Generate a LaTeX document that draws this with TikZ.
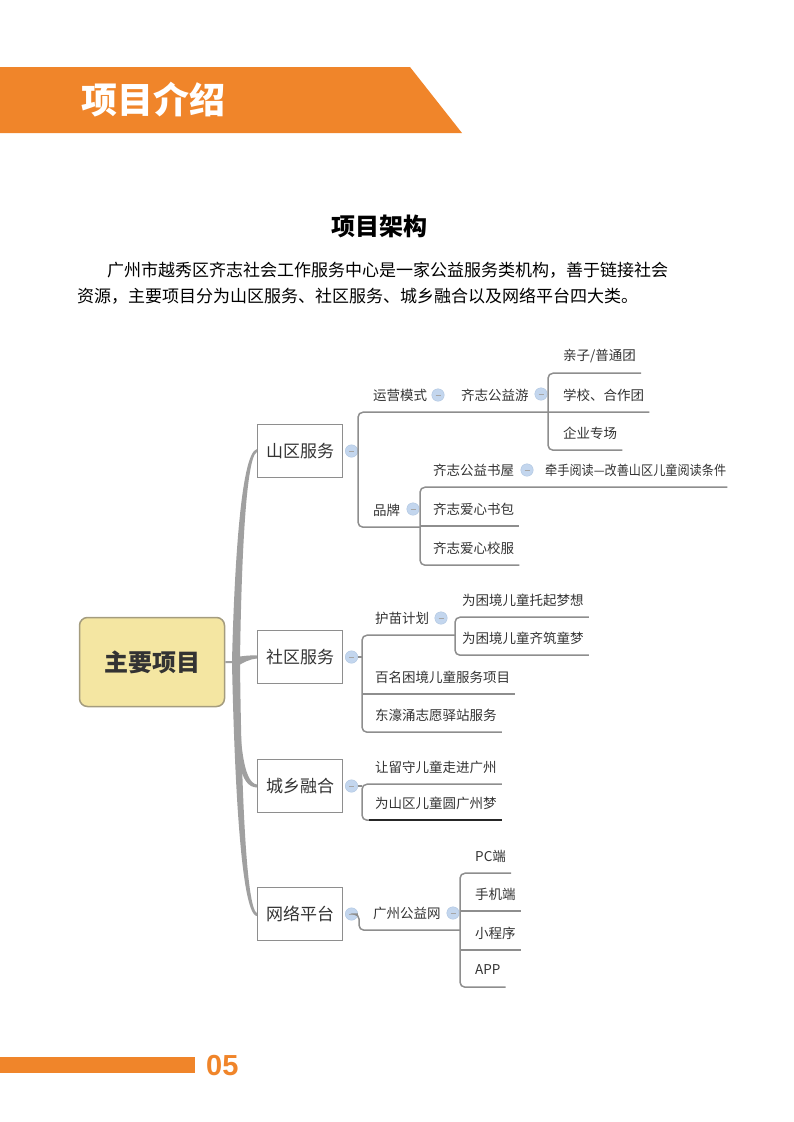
\documentclass[tikz,border=0pt]{standalone}
\usepackage{fontspec}
\setmainfont{Noto Sans CJK SC}
\newfontfamily\numfont{Liberation Sans}
\usepackage{xcolor}
\usepackage{graphicx}
\usepackage{tikz}
\usetikzlibrary{positioning, calc}
\definecolor{hdorange}{HTML}{F0852A}
\definecolor{ink}{HTML}{333333}
\definecolor{linegray}{HTML}{8E8E8E}
\definecolor{trunkgray}{HTML}{A0A0A0}
\definecolor{rootfill}{HTML}{F4E6A2}
\definecolor{rootline}{HTML}{A49C7E}
\definecolor{foldfill}{HTML}{C3D6EE}
\definecolor{foldline}{HTML}{AFC6E0}
\newcommand{\fsz}[1]{\fontsize{#1}{#1}\selectfont}

\begin{document}
\begin{tikzpicture}[
        x=1pt, y=-1pt,
        root/.style={rectangle, rounded corners=8pt, draw=rootline, fill=rootfill, line width=1.5pt, minimum width=145pt, minimum height=89pt, text=ink, font=\fsz{24}\bfseries},
        topic/.style={rectangle, draw=linegray, fill=white, line width=1.1pt, minimum width=85pt, minimum height=53pt, text=ink, font=\fsz{17}},
        leaf/.style={anchor=west, inner xsep=0pt, inner ysep=0pt, minimum height=34pt, text=ink, font=\fsz{13.5}},
        fold/.style={circle, draw=foldline, fill=foldfill, minimum size=12.5pt, inner sep=0pt,
            path picture={\draw[white!30!gray, line width=0.6pt] ([xshift=-2.5pt]path picture bounding box.center) -- ([xshift=2.5pt]path picture bounding box.center);}},
        uline/.style={draw=linegray, line width=1.5pt, rounded corners=5pt},
        trunk/.style={fill=trunkgray}
    ]
    \useasboundingbox (0,0) rectangle (793,1122);

    % Header
    \fill[hdorange] (0,67) -- (410,67) -- (462,133) -- (0,133) -- cycle;
    \node (Header) [text=white, font=\fsz{36}\bfseries] at (153,100) {项目介绍};

    \node (Title) [font=\fsz{24}\bfseries] at (379,226) {项目架构};
    \node (ParaA) [anchor=west, inner sep=0pt, font=\fsz{17}] at (107,270) {广州市越秀区齐志社会工作服务中心是一家公益服务类机构，善于链接社会};
    \node (ParaB) [anchor=west, inner sep=0pt, font=\fsz{17}] at (77,296) {资源，主要项目分为山区服务、社区服务、城乡融合以及网络平台四大类。};

    % Nodes
    \node (Main) [root] at (152,662) {主要项目};
    \node (ShanQu) [topic] at (300,451) {山区服务};
    \node (SheQu) [topic] at (300,657) {社区服务};
    \node (ChengXiang) [topic] at (300,786) {城乡融合};
    \node (WangLuo) [topic] at (300,914) {网络平台};

    % Trunk (tapered branches)
    \fill [trunk] ($(Main.east)+(0,-1)$) -- (232,661) .. controls (234,580) and (240,453) .. ($(ShanQu.west)+(0,-2)$)
        -- ($(ShanQu.west)+(0,1)$) .. controls (245,457) and (241,580) .. (240,662)
        .. controls (241,760) and (245,908) .. ($(WangLuo.west)+(0,-1)$)
        -- ($(WangLuo.west)+(0,2)$) .. controls (240,915) and (234,760) .. (232,663) -- ($(Main.east)+(0,1)$) -- cycle;
    \fill [trunk] (233,680) .. controls (235,760) and (240,787) .. ($(ChengXiang.west)+(0,1.5)$)
        -- ($(ChengXiang.west)+(0,-1.5)$) .. controls (243,783) and (239,740) .. (239,680) -- cycle;
    \fill [trunk] (236,657) .. controls (244,656) and (250,655) .. ($(SheQu.west)+(0,-1.5)$)
        -- ($(SheQu.west)+(0,1.5)$) .. controls (250,659) and (244,662) .. (236,667) -- cycle;

    \node (FoldShanQu) [fold, right=2pt of ShanQu] {};
    \node (FoldSheQu) [fold, right=2pt of SheQu] {};
    \node (FoldChengXiang) [fold, right=2pt of ChengXiang] {};
    \node (FoldWangLuo) [fold, right=2pt of WangLuo] {};

    % Shanqu branch
    \coordinate (BarA) at (358,0);
    \coordinate (BarB) at (548,0);
    \coordinate (BarC) at (420,0);
    \node (YunYing) [leaf] at (373,395) {运营模式};
    \node (FoldYunYing) [fold] at (438,395) {};
    \node (GongYiYou) [leaf] at (461,395) {齐志公益游};
    \node (FoldGongYiYou) [fold] at (541,394) {};
    \node (QinZi) [leaf] at (563,356) {亲子/普通团};
    \node (XueXiao) [leaf] at (563,395) {学校、合作团};
    \node (QiYe) [leaf] at (563,433) {企业专场};
    \node (PinPai) [leaf] at (373,510) {品牌};
    \node (FoldPinPai) [fold] at (413,509) {};
    \node (ShuWu) [leaf] at (433,470) {齐志公益书屋};
    \node (FoldShuWu) [fold] at (527,470) {};
    \node (QianShou) [leaf] at (545,470) {\scalebox{0.9}[1]{牵手阅读—改善山区儿童阅读条件}};
    \node (ShuBao) [leaf] at (433,509) {齐志爱心书包};
    \node (XiaoFu) [leaf] at (433,548) {齐志爱心校服};

    \draw [uline] (FoldShanQu.east) -- (FoldShanQu -| BarA);
    \draw [uline] ([xshift=5pt]XueXiao.south east) -- (YunYing.south -| BarA) -- (PinPai.south -| BarA) -- (PinPai.south -| BarC);
    \draw [uline] ([xshift=5pt]QinZi.south east) -- (QinZi.south -| BarB) -- (QiYe.south -| BarB) -- ([xshift=5pt]QiYe.south east);
    \draw [uline] ([xshift=1pt]QianShou.south east) -- (ShuWu.south -| BarC) -- (XiaoFu.south -| BarC) -- ([xshift=5pt]XiaoFu.south east);
    \draw [uline] (ShuBao.south -| BarC) -- ([xshift=5pt]ShuBao.south east);

    % Shequ branch
    \coordinate (BarD) at (362,0);
    \coordinate (BarE) at (455,0);
    \node (HuMiao) [leaf] at (375,618) {护苗计划};
    \node (FoldHuMiao) [fold] at (441,618) {};
    \node (TuoQi) [leaf] at (462,600) {为困境儿童托起梦想};
    \node (QiZhu) [leaf] at (462,638) {为困境儿童齐筑童梦};
    \node (BaiMing) [leaf] at (375,677) {百名困境儿童服务项目};
    \node (DongHao) [leaf] at (375,715) {东濠涌志愿驿站服务};

    \draw [uline] (FoldSheQu.east) -- (FoldSheQu -| BarD);
    \draw [uline] (HuMiao.south -| BarE) -- (HuMiao.south -| BarD) -- (DongHao.south -| BarD) -- ([xshift=5pt]DongHao.south east);
    \draw [uline] (BaiMing.south -| BarD) -- ([xshift=5pt]BaiMing.south east);
    \draw [uline] ([xshift=5pt]TuoQi.south east) -- (TuoQi.south -| BarE) -- (QiZhu.south -| BarE) -- ([xshift=5pt]QiZhu.south east);

    % Chengxiang branch
    \coordinate (BarF) at (362,0);
    \node (LiuShou) [leaf] at (375,767) {让留守儿童走进广州};
    \node (YuanMeng) [leaf] at (375,803) {为山区儿童圆广州梦};

    \draw [uline] (FoldChengXiang.east) -- (FoldChengXiang -| BarF);
    \draw [uline] ([xshift=5pt]LiuShou.south east) -- (LiuShou.south -| BarF) -- (YuanMeng.south -| BarF) -- ([xshift=5pt]YuanMeng.south east);
    \draw [uline, draw=black!85] ([xshift=-6pt]YuanMeng.south west) -- ([xshift=5pt]YuanMeng.south east);

    % Wangluo branch
    \coordinate (BarG) at (359,0);
    \coordinate (BarH) at (460,0);
    \node (GongYiWang) [leaf] at (373,913) {广州公益网};
    \node (FoldGongYiWang) [fold] at (453,913) {};
    \node (PcDuan) [leaf] at (475,856) {PC端};
    \node (ShouJi) [leaf] at (475,894) {手机端};
    \node (XiaoCheng) [leaf] at (475,933) {小程序};
    \node (App) [leaf] at (475,970) {APP};

    \draw [uline] (FoldWangLuo.east) -- (FoldWangLuo -| BarG) -- (GongYiWang.south -| BarG) -- (GongYiWang.south -| BarH);
    \draw [uline] ([xshift=5pt]PcDuan.south east) -- (PcDuan.south -| BarH) -- (App.south -| BarH) -- ([xshift=5pt]App.south east);
    \draw [uline] (ShouJi.south -| BarH) -- ([xshift=5pt]ShouJi.south east);
    \draw [uline] (XiaoCheng.south -| BarH) -- ([xshift=5pt]XiaoCheng.south east);

    % Footer
    \fill[hdorange] (0,1057) rectangle (195,1073);
    \node (PageNo) [anchor=west, inner sep=0pt, text=hdorange, font=\numfont\fsz{29}\bfseries] at (206,1066) {05};

    \end{tikzpicture}
\end{document}
